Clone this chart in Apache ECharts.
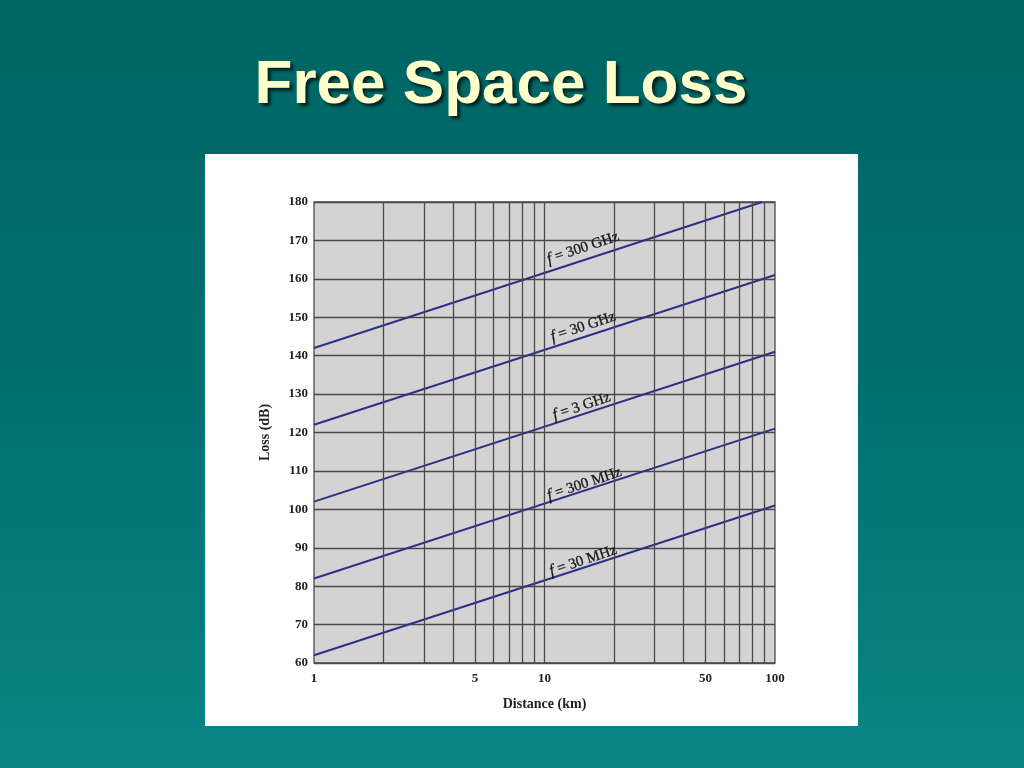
<!DOCTYPE html>
<html>
<head>
<meta charset="utf-8">
<script src="https://cdn.jsdelivr.net/npm/echarts@6/dist/echarts.min.js"></script>
<style>
html,body{margin:0;padding:0;background:#006666;}
#c{width:1024px;height:768px;}
</style>
</head>
<body>
<div id="c"></div>
<script>
// Data
const seriesNames = ['f = 300 GHz', 'f = 30 GHz', 'f = 3 GHz', 'f = 300 MHz', 'f = 30 MHz'];
const line300GHz = [[1, 142], [88, 180]];
const line30GHz  = [[1, 122], [100, 161]];
const line3GHz   = [[1, 102], [100, 141]];
const line300MHz = [[1, 82],  [100, 121]];
const line30MHz  = [[1, 62],  [100, 101]];
const labelAnchors = [[14.7, 168], [14.7, 147.5], [14.5, 126.8], [14.9, 106.6], [14.7, 86.6]];
const xTickLabels = [1, 5, 10, 50, 100];
const xGridValues = [2, 3, 4, 5, 6, 7, 8, 9, 10, 20, 30, 40, 50, 60, 70, 80, 90];
const yMin = 60, yMax = 180, yStep = 10;

const lines = [line300GHz, line30GHz, line3GHz, line300MHz, line30MHz];
const serif = '"Liberation Serif", "DejaVu Serif", serif';
const lineColor = '#2f2f86';
const gridColor = '#4a4a4a';

const chart = echarts.init(document.getElementById('c'));

const series = [{
  type: 'line',
  data: [],
  silent: true,
  z: 1,
  markLine: {
    silent: true,
    symbol: ['none', 'none'],
    label: { show: false },
    lineStyle: { color: gridColor, width: 1.3, type: 'solid' },
    emphasis: { disabled: true },
    animation: false,
    data: xGridValues.map(v => ({ xAxis: v }))
  }
}];

lines.forEach((d, i) => {
  series.push({
    name: seriesNames[i],
    type: 'line',
    data: d,
    symbol: 'none',
    z: 3,
    lineStyle: { color: lineColor, width: 2 },
    markPoint: {
      symbol: 'circle',
      symbolSize: 0,
      silent: true,
      animation: false,
      data: [{
        coord: labelAnchors[i],
        label: {
          show: true,
          position: 'inside',
          rotate: 18.4,
          formatter: '{i|f}{n|' + seriesNames[i].slice(1) + '}',
          rich: {
            i: { fontFamily: serif, fontSize: 16, fontStyle: 'italic', color: '#1a1a1a', textBorderColor: '#1a1a1a', textBorderWidth: 0.3 },
            n: { fontFamily: serif, fontSize: 15, color: '#1a1a1a', textBorderColor: '#1a1a1a', textBorderWidth: 0.3 }
          }
        }
      }]
    }
  });
});

chart.setOption({
  animation: false,
  backgroundColor: {
    type: 'linear', x: 0, y: 0, x2: 0, y2: 1,
    colorStops: [
      { offset: 0, color: '#006563' },
      { offset: 0.5, color: '#00706f' },
      { offset: 1, color: '#0a8585' }
    ]
  },
  graphic: [
    {
      type: 'rect', z: -10, silent: true,
      shape: { x: 205, y: 154, width: 653, height: 572 },
      style: { fill: '#ffffff' }
    },
    {
      type: 'text', silent: true,
      x: 501, y: 86,
      style: {
        text: 'Free Space Loss',
        fontFamily: '"Liberation Sans", Arial, sans-serif',
        fontWeight: 'bold',
        fontSize: 62,
        fill: '#ffffcc',
        align: 'center',
        verticalAlign: 'middle',
        textShadowColor: 'rgba(0,0,0,0.65)',
        textShadowOffsetX: 3,
        textShadowOffsetY: 3,
        textShadowBlur: 3
      }
    }
  ],
  grid: {
    left: 314, top: 202, right: 249, bottom: 105,
    show: true,
    backgroundColor: '#d3d3d3',
    borderColor: gridColor,
    borderWidth: 1.3,
    containLabel: false
  },
  xAxis: {
    type: 'log',
    logBase: 10,
    min: 1,
    max: 100,
    name: 'Distance (km)',
    nameLocation: 'middle',
    nameGap: 34,
    nameTextStyle: { fontFamily: serif, fontWeight: 'bold', fontSize: 14, color: '#222' },
    axisLine: { show: false },
    axisTick: { show: false },
    splitLine: { show: false },
    axisLabel: {
      show: true,
      customValues: xTickLabels,
      margin: 9,
      fontFamily: serif,
      fontWeight: 'bold',
      fontSize: 13,
      color: '#222'
    }
  },
  yAxis: {
    type: 'value',
    min: yMin,
    max: yMax,
    interval: yStep,
    name: 'Loss (dB)',
    nameLocation: 'middle',
    nameGap: 42,
    nameTextStyle: { fontFamily: serif, fontWeight: 'bold', fontSize: 14, color: '#222' },
    axisLine: { show: false },
    axisTick: { show: false },
    splitLine: { show: true, lineStyle: { color: gridColor, width: 1.3 } },
    axisLabel: {
      margin: 6,
      fontFamily: serif,
      fontWeight: 'bold',
      fontSize: 13,
      color: '#222'
    }
  },
  series: series
});
</script>
</body>
</html>
